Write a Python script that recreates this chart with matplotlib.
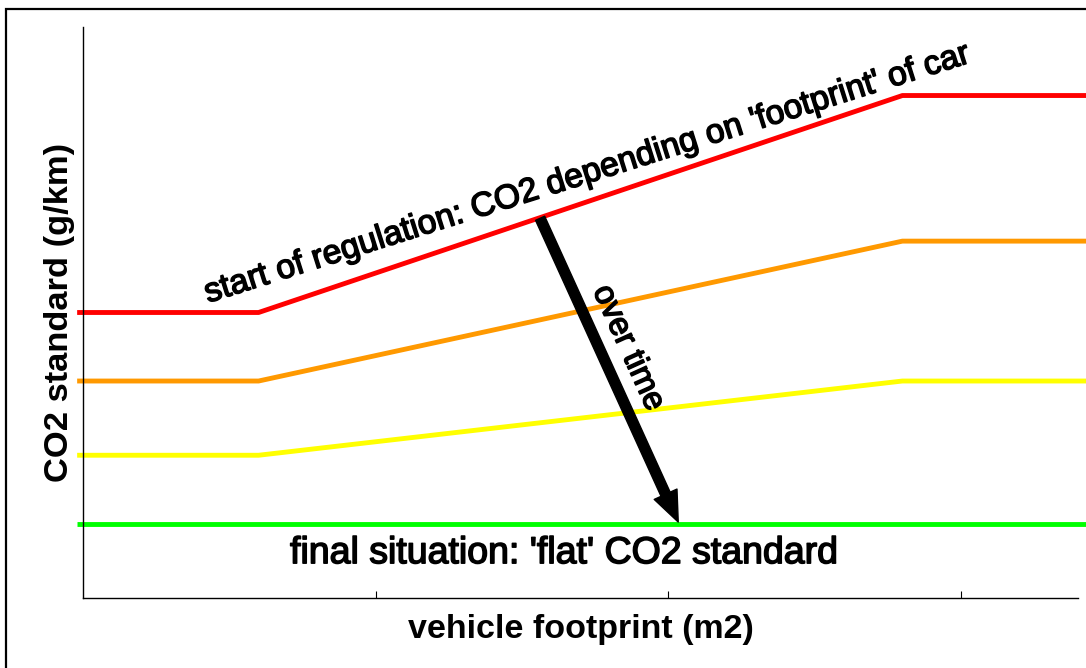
import matplotlib
matplotlib.use("Agg")
import matplotlib.pyplot as plt
import matplotlib.patheffects as pe
from matplotlib.patches import Rectangle

plt.rcParams["font.family"] = ["Liberation Sans", "DejaVu Sans"]

# ---------------------------------------------------------------------
# DATA (schematic: footprint vs CO2 standard, arbitrary units)
# ---------------------------------------------------------------------
footprint = [-0.02, 0.6, 2.8, 3.45]
co2_start = [50, 50, 88, 88]       # red: start of regulation
co2_step1 = [38, 38, 62.5, 62.5]   # orange
co2_step2 = [25, 25, 38, 38]       # yellow
co2_final = [13, 13, 13, 13]       # green: flat standard

series = [
    (co2_start, "#ff0000"),
    (co2_step1, "#ff9900"),
    (co2_step2, "#ffff00"),
    (co2_final, "#00ff00"),
]

arrow_tail = (1.562, 66.5)
arrow_tip = (2.034, 13.3)

# ---------------------------------------------------------------------
# PLOT
# ---------------------------------------------------------------------
fig = plt.figure(figsize=(10.86, 6.68), dpi=100)
ax = fig.add_axes([83 / 1086, 70 / 668, 995 / 1086, 571 / 668])

for values, color in series:
    ax.plot(footprint, values, color=color, lw=3.5, clip_on=False,
            solid_capstyle="butt", zorder=2)

ax.annotate(
    "", xy=arrow_tip, xytext=arrow_tail,
    arrowprops=dict(arrowstyle="simple,tail_width=0.36,head_width=0.9,head_length=1.1",
                    mutation_scale=20, color="black", shrinkA=0, shrinkB=0),
    zorder=3,
)

# heavier look of the annotation font
heavy = [pe.withStroke(linewidth=1.1, foreground="black")]

ax.text(0.427, 51.7, "start of regulation: CO2 depending on 'footprint' of car",
        fontsize=24.3, rotation=17.5, rotation_mode="anchor",
        ha="left", va="baseline", path_effects=heavy)
ax.text(1.863, 43.8, "over time", fontsize=23.5, rotation=-65.6,
        rotation_mode="anchor", ha="center", va="center", path_effects=heavy)
ax.text(1.644, 6.1, "final situation: 'flat' CO2 standard", fontsize=27,
        ha="center", va="baseline", path_effects=heavy)

ax.set_xlim(0, 3.4)
ax.set_ylim(0, 100)
ax.set_xticks([1, 2, 3])
ax.set_xticklabels([])
ax.set_yticks([])
ax.tick_params(axis="x", direction="in", length=5, width=0.8)
ax.spines["top"].set_visible(False)
ax.spines["right"].set_visible(False)
ax.spines["left"].set_linewidth(1.0)
ax.spines["bottom"].set_linewidth(1.0)

ax.set_xlabel("vehicle footprint (m2)", fontsize=24.5, fontweight="bold", labelpad=8)
ax.set_ylabel("CO2 standard (g/km)", fontsize=24.8, fontweight="bold", labelpad=6)

# outer frame of the original picture
fig.add_artist(Rectangle((6 / 1086, -0.1), 1.2, 1.1 - 9 / 668,
                         transform=fig.transFigure, fill=False,
                         lw=1.6, edgecolor="black"))

fig.savefig("out.png", dpi=100)
